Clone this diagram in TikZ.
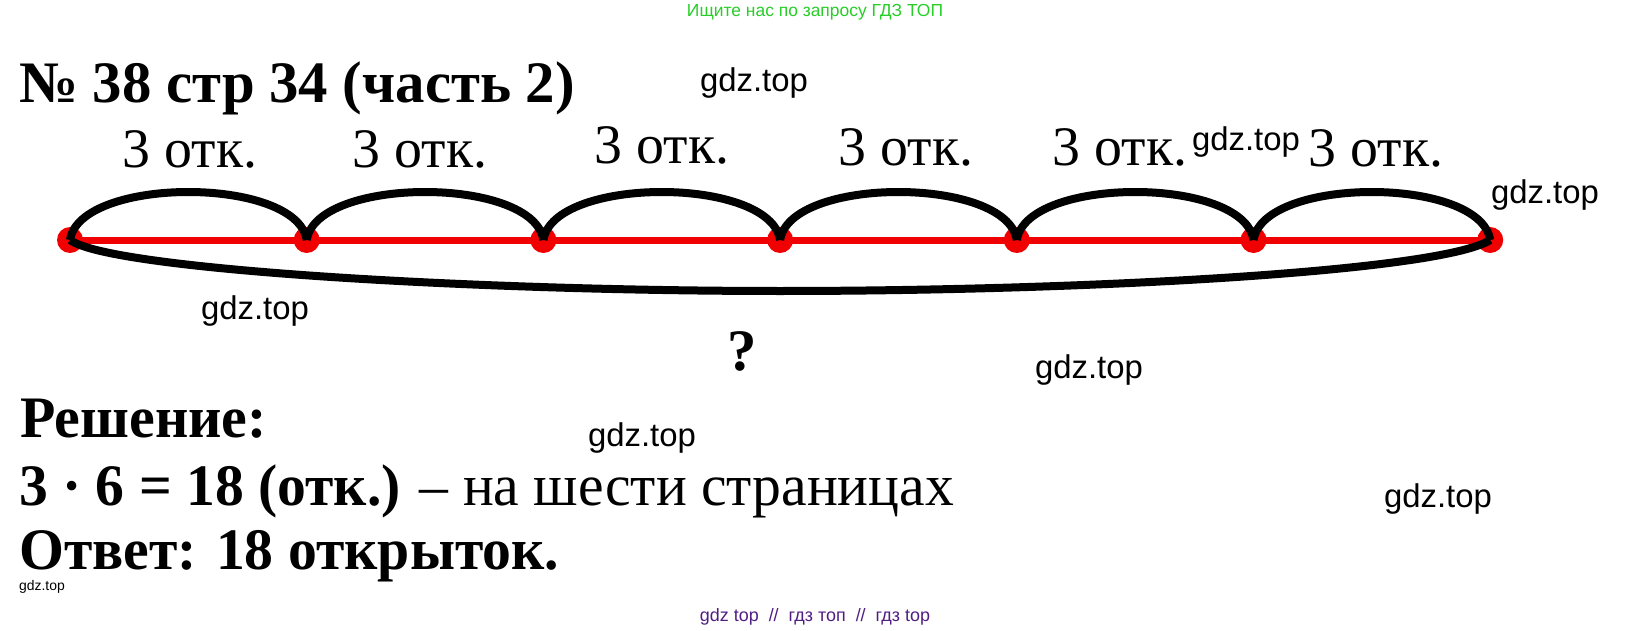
\documentclass[tikz,border=0pt]{standalone}
\usepackage{fontspec}
\setmainfont{Liberation Serif}
\newfontfamily\wmfont{Liberation Sans}
\usetikzlibrary{positioning}

\definecolor{ptred}{RGB}{240,0,0}
\definecolor{adgreen}{RGB}{40,205,40}
\definecolor{adpurple}{RGB}{80,30,130}

\tikzset{
  dot/.style={circle,fill=ptred,inner sep=0pt,minimum size=26bp},
  jump/.style={line width=8bp,black},
  seglbl/.style={font=\fontsize{56}{60}\selectfont,anchor=base,inner sep=0pt},
  bigline/.style={font=\bfseries\fontsize{59}{64}\selectfont,anchor=base west,inner sep=0pt},
  wm/.style={font=\wmfont\fontsize{33}{35}\selectfont,inner sep=0pt},
}

\begin{document}
\begin{tikzpicture}[x=1bp,y=-1bp]

    \useasboundingbox (0,0) rectangle (1630,631);

    \node[font=\wmfont\fontsize{17.5}{19}\selectfont,text=adgreen,inner sep=0pt] (ad) at (815,12) {Ищите нас по запросу ГДЗ ТОП};

    \node(title) [bigline] at (19,103) {№ 38 стр 34 (часть 2)};

    % points on the line
    \foreach \i in {0,...,6}
      \node(d\i) [dot] at ({70+236.7*\i},240) {};

    \draw[ptred,line width=7bp] (d0.center) -- (d6.center);

    \foreach \i [evaluate=\i as \j using int(\i+1)] in {0,...,5}
      \draw[jump] (d\i.center) .. controls +(10,-64) and +(-10,-64) .. (d\j.center);

    \coordinate (bot) at (780,291);
    \draw[jump] (d0.center) .. controls +(40,30) and +(-300,0) .. (bot)
      .. controls +(300,0) and +(-50,32) .. (d6.center);

    \node(l1) [seglbl] at (190,168) {3 отк.};
    \node(l2) [seglbl] at (420,168) {3 отк.};
    \node(l3) [seglbl] at (662,164) {3 отк.};
    \node(l4) [seglbl] at (906,166) {3 отк.};
    \node(l5) [seglbl] at (1120,166) {3 отк.};
    \node(l6) [seglbl] at (1376,167) {3 отк.};

    \node(q) [font=\bfseries\fontsize{59}{64}\selectfont,anchor=base,inner sep=0pt] at (742,370) {?};

    \node(sol) [bigline] at (20,437) {\scalebox{0.985}[1]{Решение:}};
    \node(calc) [bigline] at (19,505) {\scalebox{0.98}[1]{3 · 6 = 18 (отк.)\mdseries{} – на шести страницах}};
    \node(ans) [bigline,text depth=0pt] at (19,569) {\scalebox{0.982}[1]{Ответ: 18 открыток.}};

    % watermarks
    \node(w1) [wm] at (754,83) {gdz.top};
    \node(w2) [wm] at (1246,142) {gdz.top};
    \node(w3) [wm] at (1545,195) {gdz.top};
    \node(w4) [wm] at (255,311) {gdz.top};
    \node(w5) [wm] at (1089,370) {gdz.top};
    \node(w6) [wm] at (642,438) {gdz.top};
    \node(w7) [wm] at (1438,499) {gdz.top};
    \node(w8) [font=\wmfont\fontsize{14}{16}\selectfont,inner sep=0pt] at (42,587) {gdz.top};

    \node[font=\wmfont\fontsize{18}{20}\selectfont,text=adpurple,inner sep=0pt] (foot) at (815,617) {gdz top \ // \ гдз топ \ // \ гдз top};

  \end{tikzpicture}
\end{document}
